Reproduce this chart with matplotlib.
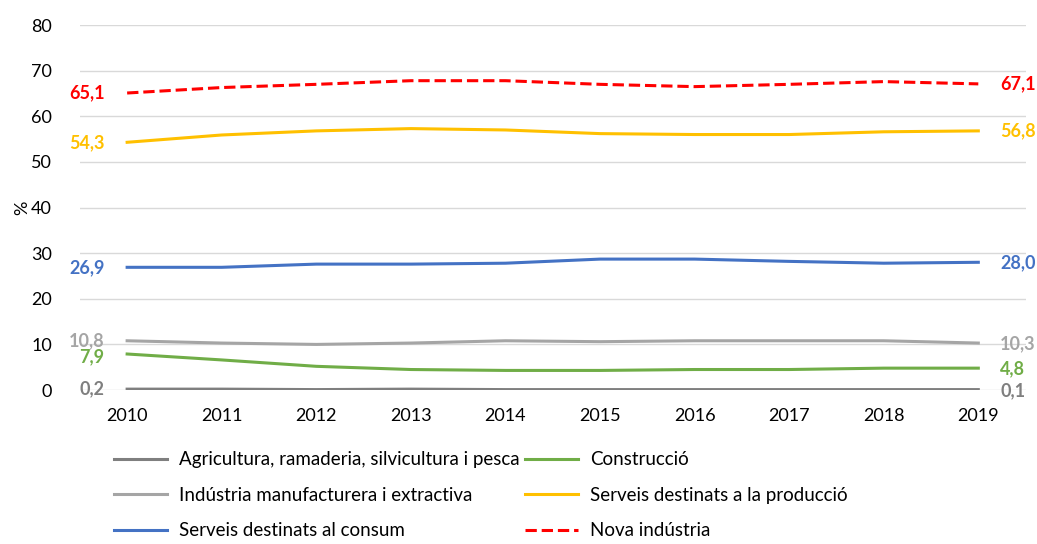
import matplotlib.pyplot as plt

years = [2010, 2011, 2012, 2013, 2014, 2015, 2016, 2017, 2018, 2019]

agricultura = [0.2, 0.2, 0.1, 0.2, 0.1, 0.1, 0.1, 0.1, 0.1, 0.1]
construccio = [7.9, 6.6, 5.2, 4.5, 4.3, 4.3, 4.5, 4.5, 4.8, 4.8]
industria = [10.8, 10.3, 10.0, 10.3, 10.8, 10.6, 10.8, 10.8, 10.8, 10.3]
serveis_prod = [54.3, 55.9, 56.8, 57.3, 57.0, 56.2, 56.0, 56.0, 56.6, 56.8]
serveis_consum = [26.9, 26.9, 27.6, 27.6, 27.8, 28.7, 28.7, 28.2, 27.8, 28.0]
nova_industria = [65.1, 66.3, 67.0, 67.8, 67.8, 67.0, 66.5, 67.0, 67.6, 67.1]

names = ["Agricultura, ramaderia, silvicultura i pesca", "Construcció",
         "Indústria manufacturera i extractiva", "Serveis destinats a la producció",
         "Serveis destinats al consum", "Nova indústria"]

plt.rcParams['font.family'] = ['Lato', 'DejaVu Sans']

fig = plt.figure(figsize=(10.37, 5.44), dpi=100)
ax = fig.add_axes([0.077, 0.283, 0.912, 0.671])

x = list(range(len(years)))
series = [
    (agricultura, "#7f7f7f", "-"),
    (construccio, "#70ad47", "-"),
    (industria, "#a5a5a5", "-"),
    (serveis_prod, "#ffc000", "-"),
    (serveis_consum, "#4472c4", "-"),
    (nova_industria, "#ff0000", "--"),
]

def fmt(v):
    return f"{v:.1f}".replace(".", ",")

# small vertical nudges for the crowded end labels (as in the original)
nudge_left = [0, -0.5, 0, 0, 0, 0]
nudge_right = [-0.3, -0.2, -0.2, 0, 0, 0]

lines = []
for i, ((vals, col, ls), name) in enumerate(zip(series, names)):
    ln, = ax.plot(x, vals, color=col, linestyle=ls, linewidth=2.2, label=name)
    lines.append(ln)
    ax.text(-0.24, vals[0] + nudge_left[i], fmt(vals[0]), color=col, fontsize=13,
            fontweight='bold', ha='right', va='center')
    ax.text(9.23, vals[-1] + nudge_right[i], fmt(vals[-1]), color=col, fontsize=13,
            fontweight='bold', ha='left', va='center')

ax.set_xlim(-0.5, 9.5)
ax.set_ylim(0, 80)
ax.set_yticks(range(0, 81, 10))
ax.set_xticks(x)
ax.set_xticklabels([str(y) for y in years])
ax.grid(axis='y', color='#d9d9d9', linewidth=1)
ax.set_axisbelow(True)
for s in ax.spines.values():
    s.set_visible(False)
ax.tick_params(length=0, labelsize=13, colors='#000000')
ax.tick_params(axis='x', pad=13)
ax.tick_params(axis='y', pad=20)
ax.set_ylabel("%", fontsize=13, labelpad=1)

order = [0, 2, 4, 1, 3, 5]
fig.legend([lines[i] for i in order], [names[i] for i in order], ncol=2,
           loc='upper left', bbox_to_anchor=(0.103, 0.184), frameon=False,
           fontsize=13.5, handlelength=2.8, handletextpad=0.65, columnspacing=0.3,
           labelspacing=0.98, borderaxespad=0)

fig.savefig("out.png", dpi=100)
